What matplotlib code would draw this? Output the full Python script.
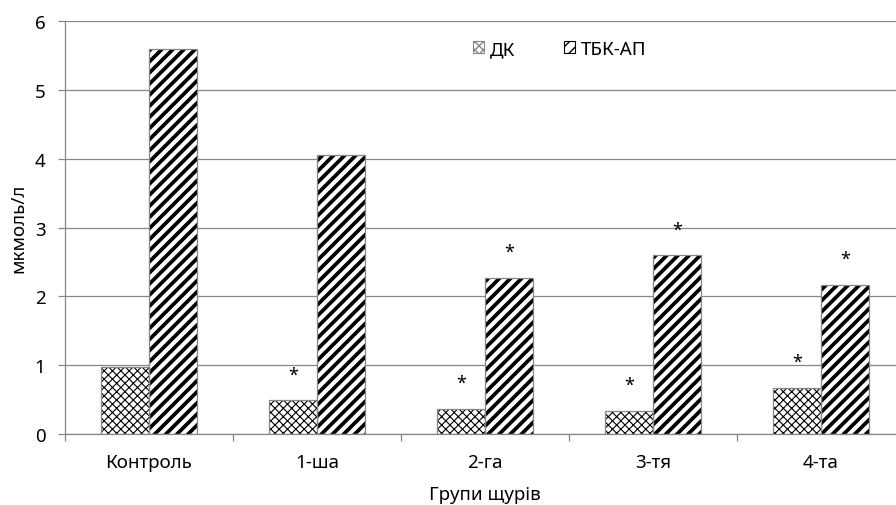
import matplotlib
matplotlib.use("Agg")
import matplotlib.pyplot as plt
from matplotlib.patches import Rectangle
import numpy as np

plt.rcParams['font.family'] = ['Noto Sans', 'DejaVu Sans']

categories = ["Контроль", "1-ша", "2-га", "3-тя", "4-та"]
dk = [0.97, 0.49, 0.37, 0.34, 0.67]
tbk = [5.60, 4.05, 2.27, 2.60, 2.17]
dk_star = [False, True, True, True, True]
tbk_star = [False, False, True, True, True]
series_names = ["ДК", "ТБК-АП"]
y_ticks = [0, 1, 2, 3, 4, 5, 6]

fig = plt.figure(figsize=(8.96, 5.06), dpi=100)
ax = fig.add_axes([65/896, 1-435/506, 840/896, 413/506])

x = np.arange(len(categories))
w = 0.286
grey = "#868686"
FS = 13.5


def hatched(xpos, vals, hatch, hlw):
    with plt.rc_context({'hatch.linewidth': hlw, 'hatch.color': 'black'}):
        bars = ax.bar(xpos, vals, w, color="white", edgecolor="black",
                      linewidth=0, hatch=hatch, zorder=2)
        for b in bars:
            try:
                b.set_hatch_linewidth(hlw)
            except Exception:
                pass
    ax.bar(xpos, vals, w, color="none", edgecolor=grey, linewidth=0.9, zorder=3)
    return bars


hatched(x - w/2, dk, "xxxx", 0.8)
hatched(x + w/2, tbk, "///", 2.7)

off = 0.30
for i in range(len(categories)):
    if dk_star[i]:
        ax.text(x[i] - w/2, dk[i] + off, "*", ha="center", va="baseline", fontsize=13, zorder=4)
    if tbk_star[i]:
        ax.text(x[i] + w/2, tbk[i] + off, "*", ha="center", va="baseline", fontsize=13, zorder=4)

ax.set_xlim(-0.5, len(categories) - 0.5)
ax.set_ylim(0, 6)
ax.set_yticks(y_ticks)
ax.set_yticklabels([str(t) for t in y_ticks], fontsize=FS)
ax.yaxis.grid(True, color=grey, linewidth=0.9, zorder=0)
ax.set_axisbelow(True)

ax.set_xticks(x)
ax.set_xticklabels(categories, fontsize=FS)
ax.set_xticks(np.arange(-0.5, len(categories)), minor=True)
ax.tick_params(axis='x', which='major', length=0, pad=14)
ax.tick_params(axis='x', which='minor', length=5, color=grey, width=0.9, direction='out')
ax.tick_params(axis='y', length=5, color=grey, width=0.9, direction='out', pad=9)

for s in ["top", "right"]:
    ax.spines[s].set_visible(False)
for s in ["left", "bottom"]:
    ax.spines[s].set_color(grey)
    ax.spines[s].set_linewidth(0.9)

ax.set_ylabel("мкмоль/л", fontsize=FS, labelpad=5)
ax.set_xlabel("Групи щурів", fontsize=FS, labelpad=10)

# legend handles
with plt.rc_context({'hatch.linewidth': 0.6, 'hatch.color': 'black'}):
    h1 = Rectangle((0, 0), 1, 1, facecolor="white", edgecolor=grey, linewidth=0.8, hatch="xxxx")
with plt.rc_context({'hatch.linewidth': 2.6, 'hatch.color': 'black'}):
    h2 = Rectangle((0, 0), 1, 1, facecolor="white", edgecolor="black", linewidth=0.8, hatch="///")
for h, lw in ((h1, 0.6), (h2, 2.6)):
    try:
        h.set_hatch_linewidth(lw)
    except Exception:
        pass

leg = fig.legend(handles=[h1, h2], labels=series_names, loc="center left",
                 bbox_to_anchor=(464/896, 1-50/506), ncol=2, frameon=False,
                 fontsize=FS, handlelength=0.59, handleheight=0.59,
                 handletextpad=0.3, columnspacing=2.6, borderpad=0)

fig.savefig("out.png", dpi=100)
